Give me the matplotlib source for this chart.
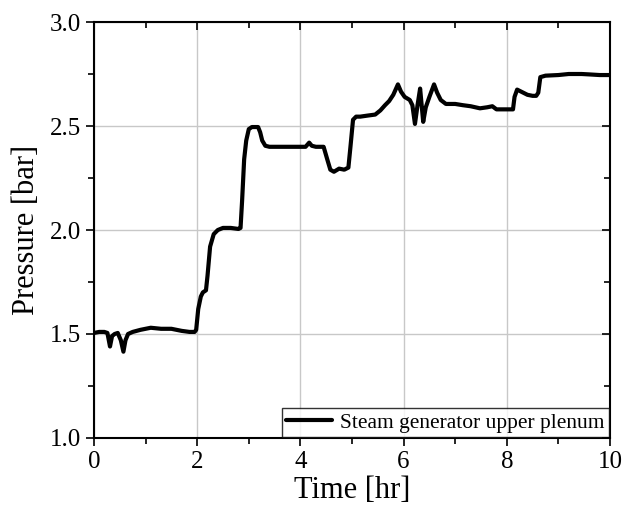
import matplotlib
matplotlib.use("Agg")
import matplotlib.pyplot as plt
from matplotlib.ticker import MultipleLocator, FormatStrFormatter

plt.rcParams['font.family'] = ['Liberation Serif', 'DejaVu Serif']

time_hr = [0.0, 0.1, 0.2, 0.26, 0.31, 0.35, 0.4, 0.46, 0.52, 0.57, 0.61, 0.66, 0.75, 0.9, 1.1, 1.3, 1.5, 1.7, 1.85, 1.95,
           1.98, 2.02, 2.07, 2.11, 2.17, 2.2, 2.25, 2.32, 2.4, 2.5, 2.65, 2.8, 2.84,
           2.87, 2.91, 2.95, 3.0, 3.06, 3.12, 3.18, 3.22, 3.26, 3.32, 3.4, 3.6, 3.9, 4.1, 4.17, 4.22,
           4.3, 4.45, 4.52, 4.58, 4.65, 4.75, 4.85, 4.93, 4.97, 5.02, 5.08, 5.16,
           5.3, 5.45, 5.55, 5.64, 5.72, 5.8, 5.89, 5.95, 6.02, 6.12, 6.17, 6.22, 6.27, 6.32, 6.35, 6.38,
           6.43, 6.5, 6.59, 6.65, 6.72, 6.82, 7.0, 7.15, 7.3, 7.48, 7.62, 7.72, 7.8, 7.88, 8.0, 8.12,
           8.15, 8.2, 8.28, 8.4, 8.5, 8.57, 8.61, 8.65, 8.75, 9.0, 9.2, 9.45, 9.6, 9.8, 10.0]
pressure_bar = [1.505, 1.51, 1.51, 1.505, 1.44, 1.49, 1.50, 1.505, 1.47, 1.415, 1.47, 1.50, 1.51, 1.52, 1.53, 1.525, 1.525, 1.515, 1.51, 1.51,
                1.52, 1.62, 1.68, 1.70, 1.71, 1.78, 1.92, 1.98, 2.0, 2.01, 2.01, 2.005, 2.01,
                2.14, 2.34, 2.43, 2.485, 2.495, 2.495, 2.495, 2.47, 2.43, 2.405, 2.40, 2.40, 2.40, 2.40, 2.42, 2.405,
                2.40, 2.40, 2.34, 2.29, 2.28, 2.295, 2.29, 2.30, 2.40, 2.53, 2.545, 2.545,
                2.55, 2.555, 2.575, 2.60, 2.62, 2.65, 2.70, 2.665, 2.64, 2.625, 2.60, 2.51, 2.60, 2.68, 2.60, 2.52,
                2.59, 2.64, 2.70, 2.66, 2.625, 2.606, 2.606, 2.60, 2.595, 2.585, 2.59, 2.595, 2.58, 2.58, 2.58, 2.58,
                2.64, 2.675, 2.665, 2.65, 2.645, 2.645, 2.66, 2.735, 2.742, 2.745, 2.75, 2.75, 2.748, 2.745, 2.745]

fig = plt.figure(figsize=(6.32, 5.11), dpi=100)
rect = [94/632, 1 - 438/511, (610-94)/632, (438-22)/511]
ax = fig.add_axes(rect)

ax.plot(time_hr, pressure_bar, color='black', lw=3.0, label='Steam generator upper plenum',
        solid_joinstyle='round', solid_capstyle='round')

ax.set_xlim(0, 10)
ax.set_ylim(1.0, 3.0)
ax.xaxis.set_major_locator(MultipleLocator(2))
ax.xaxis.set_minor_locator(MultipleLocator(1))
ax.yaxis.set_major_locator(MultipleLocator(0.5))
ax.yaxis.set_minor_locator(MultipleLocator(0.25))
ax.yaxis.set_major_formatter(FormatStrFormatter('%.1f'))

ax.grid(True, which='major', color='#c8c8c8', lw=1.0)
ax.set_axisbelow(True)

ax.tick_params(axis='both', which='major', labelsize=18, direction='out', length=6, width=1.2)
ax.tick_params(axis='both', which='minor', direction='out', length=4, width=1.2)

for s in ax.spines.values():
    s.set_linewidth(1.5)

# inward ticks on top and right
ax2 = fig.add_axes(rect, frameon=False, sharex=ax, sharey=ax)
ax2.patch.set_visible(False)
ax2.tick_params(axis='both', which='both', direction='in', bottom=False, left=False,
                top=True, right=True, labelbottom=False, labelleft=False,
                labeltop=False, labelright=False, width=1.2)
ax2.tick_params(which='major', length=6)
ax2.tick_params(which='minor', length=4)

ax.set_xlabel('Time [hr]', fontsize=22, labelpad=2)
ax.set_ylabel('Pressure [bar]', fontsize=22, labelpad=6)

leg = ax.legend(loc='lower right', fontsize=15.5, frameon=True, fancybox=False,
                edgecolor='black', borderaxespad=0.05, handlelength=2.1,
                handletextpad=0.4, borderpad=0.2)
leg.get_frame().set_linewidth(1.0)

fig.savefig('out.png', dpi=100)
